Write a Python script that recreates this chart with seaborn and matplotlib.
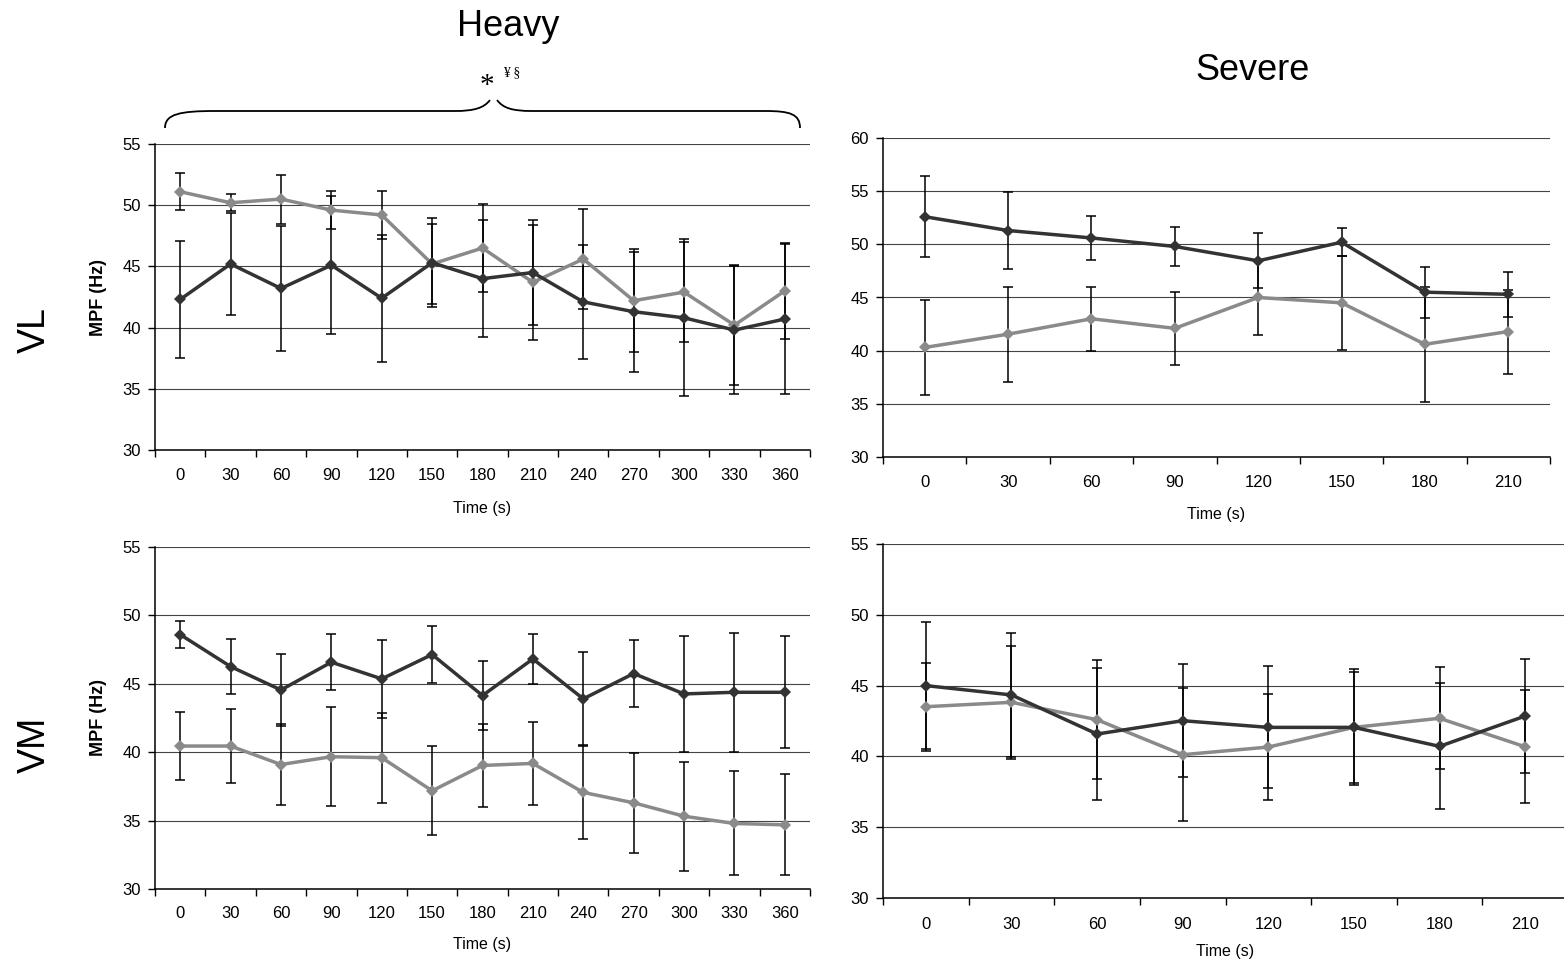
import numpy as np
import pandas as pd
import matplotlib
matplotlib.use('Agg')
import matplotlib.pyplot as plt
from matplotlib.path import Path
from matplotlib.patches import PathPatch
import seaborn as sns

# time points (s)
heavy_times = [0, 30, 60, 90, 120, 150, 180, 210, 240, 270, 300, 330, 360]
severe_times = [0, 30, 60, 90, 120, 150, 180, 210]

# VL, heavy exercise
vl_heavy_dark = [42.3, 45.2, 43.2, 45.1, 42.4, 45.3, 44.0, 44.5, 42.1, 41.3, 40.8, 39.8, 40.7]
vl_heavy_dark_sd = [4.8, 4.15, 5.1, 5.65, 5.2, 3.65, 4.8, 4.3, 4.65, 4.9, 6.4, 5.2, 6.1]
vl_heavy_light = [51.1, 50.2, 50.5, 49.6, 49.2, 45.2, 46.5, 43.7, 45.6, 42.2, 42.9, 40.2, 43.0]
vl_heavy_light_sd = [1.5, 0.7, 2.0, 1.55, 2.0, 3.25, 3.6, 4.7, 4.1, 4.2, 4.1, 4.9, 3.9]

# VL, severe exercise
vl_severe_dark = [52.6, 51.3, 50.6, 49.8, 48.45, 50.2, 45.5, 45.3]
vl_severe_dark_sd = [3.8, 3.6, 2.1, 1.8, 2.6, 1.3, 2.4, 2.1]
vl_severe_light = [40.3, 41.55, 43.0, 42.1, 45.0, 44.5, 40.6, 41.8]
vl_severe_light_sd = [4.5, 4.45, 3.0, 3.45, 3.5, 4.4, 5.4, 3.95]

# VM, heavy exercise
vm_heavy_dark = [48.6, 46.26, 44.55, 46.58, 45.36, 47.14, 44.14, 46.82, 43.9, 45.75, 44.26, 44.38, 44.38]
vm_heavy_dark_sd = [1.0, 2.0, 2.65, 2.05, 2.85, 2.05, 2.55, 1.85, 3.4, 2.45, 4.25, 4.35, 4.1]
vm_heavy_light = [40.45, 40.45, 39.1, 39.67, 39.6, 37.18, 39.03, 39.18, 37.06, 36.3, 35.32, 34.79, 34.69]
vm_heavy_light_sd = [2.5, 2.7, 2.95, 3.6, 3.3, 3.25, 3.0, 3.05, 3.4, 3.65, 4.0, 3.8, 3.7]

# VM, severe exercise
vm_severe_dark = [45.0, 44.34, 41.58, 42.52, 42.05, 42.05, 40.71, 42.85]
vm_severe_dark_sd = [4.5, 4.4, 4.65, 4.0, 4.3, 4.1, 4.45, 4.05]
vm_severe_light = [43.51, 43.82, 42.59, 40.12, 40.66, 42.05, 42.69, 40.68]
vm_severe_light_sd = [3.1, 4.0, 4.2, 4.7, 3.75, 3.9, 3.6, 4.0]

sns.set_style('ticks')
plt.rcParams['font.family'] = ['Liberation Sans', 'DejaVu Sans']
plt.rcParams['text.color'] = 'black'
plt.rcParams['axes.labelcolor'] = 'black'
plt.rcParams['xtick.color'] = 'black'
plt.rcParams['ytick.color'] = 'black'

W, H = 1564, 963
fig = plt.figure(figsize=(W / 100, H / 100), dpi=100)

DARK = '#333333'
LIGHT = '#8a8a8a'


def box(left, top, right, bottom):
    return [left / W, 1 - bottom / H, (right - left) / W, (bottom - top) / H]


def panel(rect, times, dark, dark_sd, light, light_sd, ymax, ylabel=None, tickpad=12, labelpad=13):
    ax = fig.add_axes(rect)
    n = len(times)
    df = pd.DataFrame({
        'pos': list(range(n)) * 2,
        'mpf': dark + light,
        'group': ['dark'] * n + ['light'] * n,
    })
    ax.errorbar(range(n), dark, yerr=dark_sd, fmt='none', ecolor='black',
                elinewidth=1.1, capsize=3.6, capthick=1.1, zorder=2)
    ax.errorbar(range(n), light, yerr=light_sd, fmt='none', ecolor='black',
                elinewidth=1.1, capsize=3.6, capthick=1.1, zorder=2)
    sns.lineplot(data=df, x='pos', y='mpf', hue='group',
                 palette={'dark': DARK, 'light': LIGHT}, hue_order=['light', 'dark'],
                 marker='D', markersize=6.5, markeredgewidth=0, linewidth=2.5,
                 legend=False, ax=ax, zorder=3)

    ax.set_xlim(-0.5, n - 0.5)
    ax.set_xticks(np.arange(n + 1) - 0.5)
    ax.set_xticklabels([])
    ax.set_xticks(range(n), minor=True)
    ax.set_xticklabels([str(t) for t in times], minor=True)
    ax.tick_params(axis='x', which='major', direction='out', length=5, width=1, color='black')
    ax.tick_params(axis='x', which='minor', length=0, pad=tickpad, labelsize=12)

    ax.set_ylim(30, ymax)
    ax.set_yticks(range(30, ymax + 1, 5))
    ax.tick_params(axis='y', direction='out', length=5, width=1, pad=5, labelsize=12, color='black')
    ax.grid(axis='y', color='#444444', lw=0.8)
    ax.set_axisbelow(True)

    for s in ['top', 'right']:
        ax.spines[s].set_visible(False)
    for s in ['left', 'bottom']:
        ax.spines[s].set_color('black')
        ax.spines[s].set_linewidth(1.1)

    ax.set_xlabel('Time (s)', fontsize=11.5, labelpad=labelpad)
    if ylabel:
        ax.set_ylabel(ylabel, fontsize=13, fontweight='bold', labelpad=11)
    else:
        ax.set_ylabel('')
    return ax


panel(box(155, 144, 810, 450), heavy_times, vl_heavy_dark, vl_heavy_dark_sd,
      vl_heavy_light, vl_heavy_light_sd, 55, 'MPF (Hz)', tickpad=13, labelpad=13)
panel(box(883, 138, 1550, 457), severe_times, vl_severe_dark, vl_severe_dark_sd,
      vl_severe_light, vl_severe_light_sd, 60, tickpad=13, labelpad=12)
panel(box(155, 547, 810, 889), heavy_times, vm_heavy_dark, vm_heavy_dark_sd,
      vm_heavy_light, vm_heavy_light_sd, 55, 'MPF (Hz)', tickpad=12, labelpad=12)
panel(box(883, 544, 1568, 898), severe_times, vm_severe_dark, vm_severe_dark_sd,
      vm_severe_light, vm_severe_light_sd, 55, tickpad=14, labelpad=8)

# overlay in pixel coordinates for titles, row labels and the brace
ov = fig.add_axes([0, 0, 1, 1])
ov.set_xlim(0, W)
ov.set_ylim(H, 0)
ov.axis('off')

ov.text(508, 27, 'Heavy', fontsize=26, ha='center', va='center')
ov.text(1253, 70, 'Severe', fontsize=26, ha='center', va='center')
ov.text(35, 330, 'VL', fontsize=27, rotation=90, ha='center', va='center')
ov.text(35, 745, 'VM', fontsize=27, rotation=90, ha='center', va='center')

ov.text(487, 86, '*', fontsize=21, family='Liberation Serif', ha='center', va='center')
ov.text(512, 73, '¥ §', fontsize=10, family='Liberation Serif', ha='center', va='center')

verts = [
    (165, 128), (165, 114), (180, 111), (215, 111),
    (455, 111),
    (474, 111), (484, 108), (490, 100),
    (497, 100),
    (503, 108), (512, 111), (532, 111),
    (765, 111),
    (790, 111), (800, 114), (800, 128),
]
codes = [Path.MOVETO, Path.CURVE4, Path.CURVE4, Path.CURVE4,
         Path.LINETO,
         Path.CURVE4, Path.CURVE4, Path.CURVE4,
         Path.MOVETO,
         Path.CURVE4, Path.CURVE4, Path.CURVE4,
         Path.LINETO,
         Path.CURVE4, Path.CURVE4, Path.CURVE4]
ov.add_patch(PathPatch(Path(verts, codes), fill=False, edgecolor='black', lw=1.3))

fig.savefig('out.png', dpi=100)
